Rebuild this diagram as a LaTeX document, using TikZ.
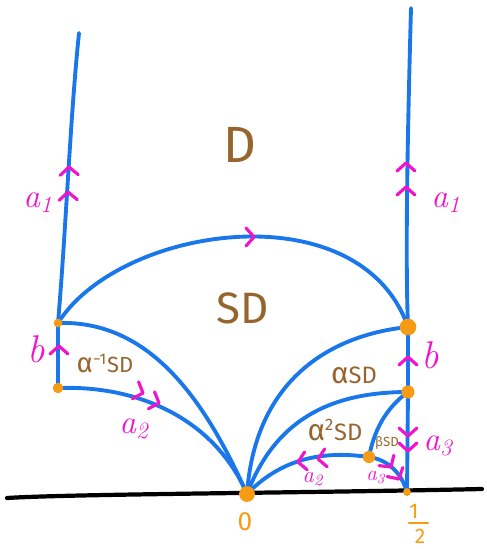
\documentclass[tikz,border=0pt]{standalone}
\usepackage{fontspec}
\setmainfont{Latin Modern Roman}
\newfontfamily\handfont{Fira Sans}
\usetikzlibrary{calc,shapes.geometric}
\definecolor{lineblue}{RGB}{25,118,235}
\definecolor{dotorange}{RGB}{247,155,20}
\definecolor{labmag}{RGB}{240,20,205}
\definecolor{labbrown}{RGB}{150,100,45}
\tikzset{
  chev/.pic={\draw[labmag, line width=1.8pt, line cap=round, line join=round] (-8,-9) -- (0,0) -- (-8,9);},
}
\newcommand{\bigalpha}{{\fontsize{1.25em}{1em}\selectfont α}}
\begin{document}
\begin{tikzpicture}[x=0.02cm,y=-0.02cm,
  edge/.style={draw=lineblue, line width=2.2pt, line cap=round},
  axis/.style={draw=black, line width=2.4pt, line cap=round},
  dot/.style={ellipse, fill=dotorange, inner sep=0pt, minimum width=#1, minimum height=#1},
  brownlab/.style={text=labbrown, font=\handfont\fontsize{#1}{#1}\selectfont, inner sep=0pt},
  maglab/.style={text=labmag, font=\itshape\fontsize{#1}{#1}\selectfont, inner sep=0pt},
  orlab/.style={text=dotorange, font=\handfont\fontsize{#1}{#1}\selectfont, inner sep=0pt},
]
\useasboundingbox (0,0) rectangle (487,549);
% points
\coordinate (tl) at (79,33);
\coordinate (tr) at (411,8);
\coordinate (p1) at (58,323);
\coordinate (p2) at (58,388);
\coordinate (q1) at (408,327);
\coordinate (q2) at (408,392);
\coordinate (q3) at (407,492);
\coordinate (o) at (247,494);
\coordinate (r) at (369,457);
\coordinate (axl) at (7,498);
\coordinate (axr) at (482,489);
% real axis
\draw[axis] (axl) .. controls (70,494) and (300,493) .. (axr);
% vertical sides
\draw[edge] (p1) .. controls (66,230) and (70,120) .. (tl);
\draw[edge] (q1) .. controls (405,250) and (408,120) .. (tr);
\draw[edge] (p1) -- (p2);
\draw[edge] (q1) -- (q2) -- (q3);
% arcs
\draw[edge] (p1) .. controls (120,225) and (360,190) .. (q1);
\draw[edge] (p1) .. controls (150,320) and (205,400) .. (o);
\draw[edge] (p2) .. controls (140,385) and (215,420) .. (o);
\draw[edge] (o) .. controls (255,380) and (330,335) .. (q1);
\draw[edge] (o) .. controls (275,420) and (330,392) .. (q2);
\draw[edge] (o) .. controls (280,460) and (320,450) .. (r);
\draw[edge] (r) .. controls (390,460) and (402,475) .. (q3);
\draw[edge] (r) .. controls (375,425) and (390,405) .. (q2);
% dots
\node[dot=5pt] (P1) at (p1) {};
\node[dot=6pt] (P2) at (p2) {};
\node[dot=9.5pt] (Q1) at (q1) {};
\node[dot=7.5pt] (Q2) at (q2) {};
\node[dot=4.5pt] (Q3) at (q3) {};
\node[dot=9pt] (O) at (o) {};
\node[dot=7pt, rotate=20] (R) at (r) {};
% chevrons
\pic[rotate=92] at (69,167) {chev};
\pic[rotate=92] at (68,192) {chev};
\pic[rotate=90] at (406,163) {chev};
\pic[rotate=90] at (406,187) {chev};
\pic at (254,237) {chev};
\pic[rotate=90] at (59,346) {chev};
\pic[rotate=90] at (408,357) {chev};
\pic[rotate=-20] at (143,393) {chev};
\pic[rotate=-20] at (159,403) {chev};
\pic[rotate=-90] at (408,436) {chev};
\pic[rotate=-90] at (408,451) {chev};
\pic[rotate=188] at (298,462) {chev};
\pic[rotate=188] at (318,459) {chev};
\pic[rotate=-55] at (391,467) {chev};
\pic[rotate=-60] at (399,479) {chev};
% brown labels
\node[brownlab=29] (lD) at (240,145) {D};
\node[brownlab=25] (lSD) at (243,308) {SD};
\node[brownlab=12.5, anchor=base] (lainv) at (105,372) {\bigalpha\textsuperscript{−1}SD};
\node[brownlab=13.5, anchor=base] (la) at (354,383) {\bigalpha SD};
\node[brownlab=13.5, anchor=base] (laa) at (335,440) {\bigalpha\textsuperscript{2}SD};
\node[brownlab=7.5, anchor=base] (lb) at (387,446) {βSD};
% magenta labels
\node[maglab=19, anchor=base] (la1l) at (38,207) {a\textsubscript{1}};
\node[maglab=19, anchor=base] (la1r) at (446,207) {a\textsubscript{1}};
\node[maglab=22, anchor=base] (lbl) at (36,362) {b};
\node[maglab=22, anchor=base] (lbr) at (430,368) {b};
\node[maglab=19, anchor=base] (la2l) at (134,433) {a\textsubscript{2}};
\node[maglab=19, anchor=base] (la3r) at (438,450) {a\textsubscript{3}};
\node[maglab=13, anchor=base] (la2s) at (313,482) {a\textsubscript{2}};
\node[maglab=12, anchor=base] (la3s) at (376,480) {a\textsubscript{3}};
% orange labels
\node[orlab=15] (l0) at (245,522) {0};
\node[orlab=12] (lnum) at (414,511) {1};
\node[orlab=12] (lden) at (420,536) {2};
\coordinate (barl) at (409,523);
\coordinate (barr) at (428,523);
\draw[dotorange, line width=1.6pt, line cap=round] (barl) -- (barr);
\end{tikzpicture}
\end{document}
